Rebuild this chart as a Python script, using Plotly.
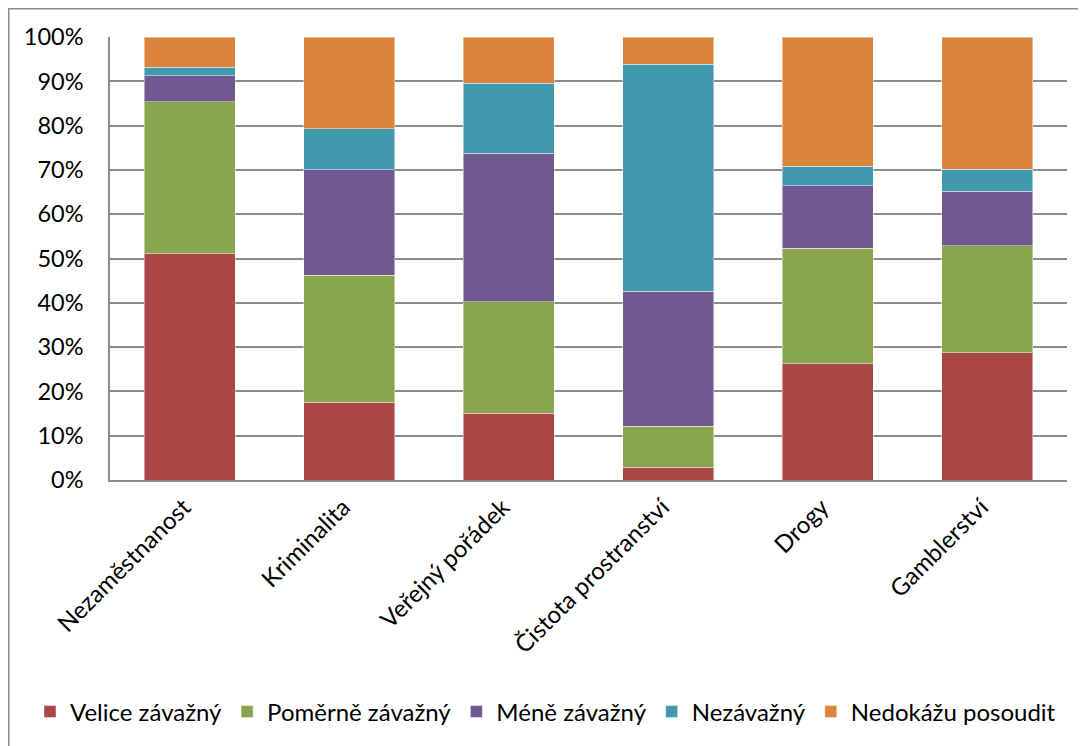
import plotly.graph_objects as go

categories = ["Nezaměstnanost", "Kriminalita", "Veřejný pořádek",
              "Čistota prostranství", "Drogy", "Gamblerství"]
series_names = ["Velice závažný", "Poměrně závažný", "Méně závažný",
                "Nezávažný", "Nedokážu posoudit"]
velice = [51.1, 17.6, 15.1, 2.9, 26.2, 28.7]
pomerne = [34.3, 28.6, 25.1, 9.2, 26.1, 24.2]
mene = [5.9, 23.8, 33.6, 30.5, 14.1, 12.3]
nezavazny = [1.9, 9.3, 15.8, 51.3, 4.4, 4.9]
nedokazu = [6.8, 20.7, 10.4, 6.1, 29.2, 29.9]
colors = ["#AA4643", "#89A54E", "#71588F", "#4198AF", "#DB843D"]

W, H = 1086, 746
L, R, T, B = 102, 27, 29, 274
pw, ph = W - L - R, H - T - B

fig = go.Figure()
for name, vals, col in zip(series_names, [velice, pomerne, mene, nezavazny, nedokazu], colors):
    fig.add_trace(go.Bar(
        x=categories, y=[v / 100 for v in vals], name=name,
        marker=dict(color=col, line=dict(color="rgba(255,255,255,0.45)", width=1)),
    ))

font_family = "Lato, Carlito, Calibri, sans-serif"
fig.update_layout(
    barmode="stack", bargap=0.43,
    width=W, height=H,
    margin=dict(l=L, r=R, t=T, b=B),
    paper_bgcolor="white", plot_bgcolor="white",
    font=dict(family=font_family, size=24, color="#000000"),
    showlegend=True,
    legend=dict(orientation="h", x=(22 - L) / pw, xanchor="left",
                y=-(704 - (T + ph)) / ph, yanchor="middle",
                font=dict(size=24), itemwidth=30, traceorder="normal",
                bgcolor="rgba(0,0,0,0)"),
    xaxis=dict(tickangle=-45, showgrid=False, showline=True, linecolor="#8c8c8c",
               linewidth=1.5, ticks="outside", ticklen=2, tickcolor="rgba(0,0,0,0)",
               ticklabelshift=-6, tickfont=dict(size=24)),
    yaxis=dict(range=[0, 1], dtick=0.1, tickformat=".0%", showgrid=True,
               gridcolor="#8c8c8c", gridwidth=1.5, showline=True, linecolor="#8c8c8c",
               linewidth=1.5, ticks="outside", ticklen=20, tickcolor="rgba(0,0,0,0)",
               zeroline=False, tickfont=dict(size=23.5)),
    shapes=[dict(type="rect", xref="paper", yref="paper",
                 x0=(0.75 - L) / pw, x1=(W + 5 - L) / pw,
                 y0=-(H + 5 - (T + ph)) / ph, y1=1 + (T - 0.75) / ph,
                 line=dict(color="#8c8c8c", width=1.5), fillcolor="rgba(0,0,0,0)",
                 layer="below")],
)

fig.write_html("out.html")
